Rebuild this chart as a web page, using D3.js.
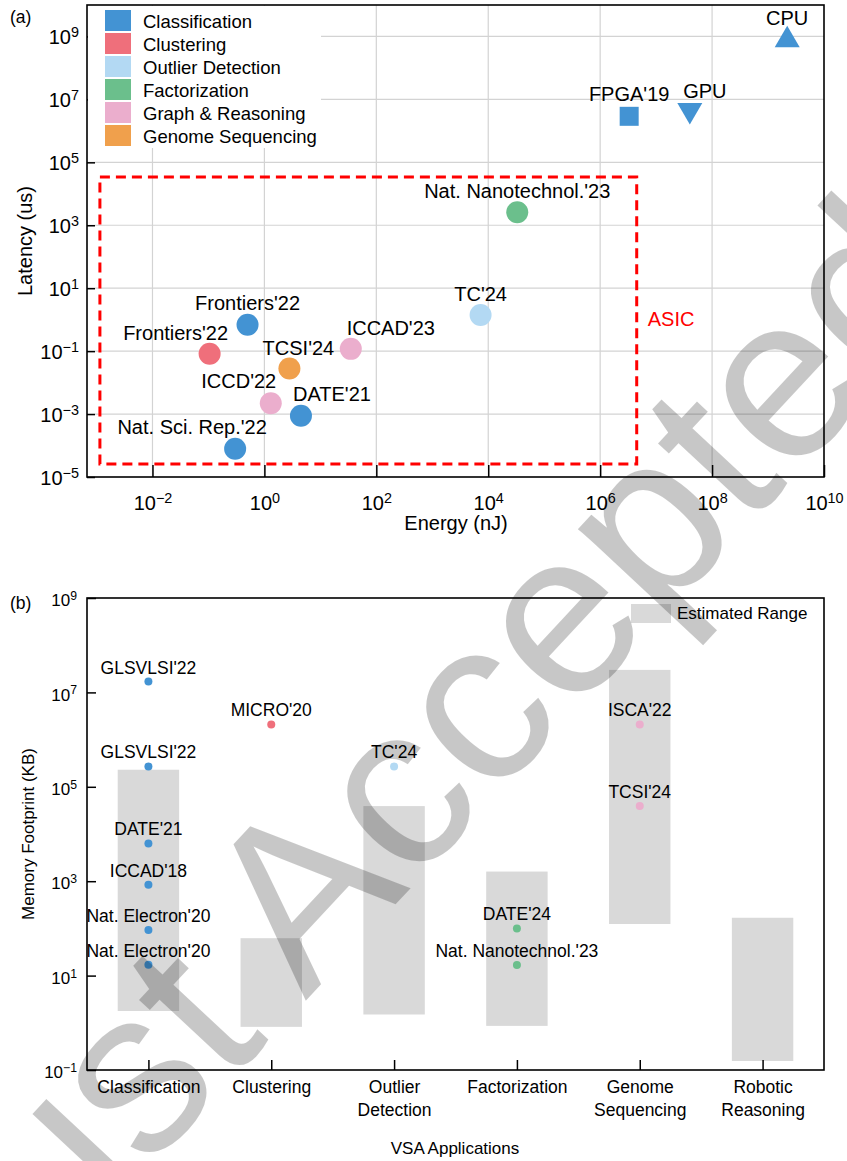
<!DOCTYPE html>
<html>
<head>
<meta charset="utf-8">
<script src="https://cdn.jsdelivr.net/npm/d3@7"></script>
<style>
  body { margin: 0; background: #fff; }
  text { font-family: "Liberation Sans", Arial, sans-serif; }
</style>
</head>
<body>
<script>
// ---- shared categories / colours
const categories = ["Classification", "Clustering", "Outlier Detection", "Factorization", "Graph & Reasoning", "Genome Sequencing"];
const catColors = ["#4393d3", "#ef6f7b", "#b3d9f3", "#6bbf8c", "#ebaecd", "#f0a04c"];

// ---- (a) energy vs latency
const aLabels   = ["CPU", "GPU", "FPGA'19", "Nat. Nanotechnol.'23", "TC'24", "Frontiers'22", "Frontiers'22", "ICCAD'23", "TCSI'24", "ICCD'22", "DATE'21", "Nat. Sci. Rep.'22"];
const aEnergy   = [2.2e9, 4e7, 3.3e6, 3.3e4, 7.3e3, 0.5, 0.105, 35, 2.8, 1.3, 4.5, 0.3];
const aLatency  = [1e9, 3.5e6, 2.9e6, 2.6e3, 1.4, 0.69, 0.082, 0.118, 0.028, 2.2e-3, 8.8e-4, 7.9e-5];
const aCategory = ["Classification", "Classification", "Classification", "Factorization", "Outlier Detection", "Classification", "Clustering", "Graph & Reasoning", "Genome Sequencing", "Graph & Reasoning", "Classification", "Classification"];
const aMarker   = ["triangle-up", "triangle-down", "square", "circle", "circle", "circle", "circle", "circle", "circle", "circle", "circle", "circle"];
const asicEnergy  = [1.15e-3, 4.5e6];
const asicLatency = [2.6e-5, 3.4e4];
const aXTicks = [1e-2, 1, 1e2, 1e4, 1e6, 1e8, 1e10];
const aYTicks = [1e-5, 1e-3, 1e-1, 1e1, 1e3, 1e5, 1e7, 1e9];

// ---- (b) memory footprint per application
const apps      = ["Classification", "Clustering", "Outlier Detection", "Factorization", "Genome Sequencing", "Robotic Reasoning"];
const rangeLow  = [1.78, 0.82, 1.5, 0.86, 124, 0.155];
const rangeHigh = [2.3e5, 62, 3.9e4, 1.6e3, 3e7, 168];
const bLabels   = ["GLSVLSI'22", "GLSVLSI'22", "DATE'21", "ICCAD'18", "Nat. Electron'20", "Nat. Electron'20", "MICRO'20", "TC'24", "DATE'24", "Nat. Nanotechnol.'23", "ISCA'22", "TCSI'24"];
const bApp      = ["Classification", "Classification", "Classification", "Classification", "Classification", "Classification", "Clustering", "Outlier Detection", "Factorization", "Factorization", "Genome Sequencing", "Genome Sequencing"];
const bMemory   = [1.7e7, 2.7e5, 6.3e3, 840, 92, 17, 2.1e6, 2.7e5, 100, 16.8, 2.1e6, 3.9e4];
const bCategory = ["Classification", "Classification", "Classification", "Classification", "Classification", "Classification", "Clustering", "Outlier Detection", "Factorization", "Factorization", "Graph & Reasoning", "Graph & Reasoning"];
const bYTicks = [1e-1, 1e1, 1e3, 1e5, 1e7, 1e9];

const color = d3.scaleOrdinal().domain(categories).range(catColors);

const W = 847, H = 1161;
const svg = d3.select("body").append("svg").attr("width", W).attr("height", H);

function expText(sel) {
  sel.each(function(d) {
    const t = d3.select(this).text(null);
    const e = Math.round(Math.log10(d));
    t.append("tspan").text("10");
    t.append("tspan").attr("dy", "-0.5em").attr("font-size", "72%").text(e < 0 ? "\u2212" + (-e) : e);
  });
}

// ================= (a) =================
const mA = {left: 87, top: 5}, wA = 737, hA = 472;
const gA = svg.append("g").attr("transform", `translate(${mA.left},${mA.top})`);
const xA = d3.scaleLog().domain([Math.pow(10, -3.17), 1e10]).range([0, wA]);
const yA = d3.scaleLog().domain([1e-5, 1e10]).range([hA, 0]);

// grid
gA.append("g").selectAll("line").data(aXTicks.slice(0, -1)).join("line")
  .attr("x1", d => xA(d)).attr("x2", d => xA(d)).attr("y1", 0).attr("y2", hA)
  .attr("stroke", "#d3d3d3").attr("stroke-width", 1.2);
gA.append("g").selectAll("line").data(aYTicks.slice(1)).join("line")
  .attr("y1", d => yA(d)).attr("y2", d => yA(d)).attr("x1", 0).attr("x2", wA)
  .attr("stroke", "#d3d3d3").attr("stroke-width", 1.2);

// axes
const axA_x = gA.append("g").attr("transform", `translate(0,${hA})`)
  .call(d3.axisBottom(xA).tickValues(aXTicks).tickSize(-12).tickSizeOuter(0).tickPadding(19))
  .attr("font-size", 20).attr("font-family", null);
axA_x.select(".domain").remove();
axA_x.selectAll(".tick line").attr("stroke-width", 1.5);
axA_x.selectAll(".tick text").call(expText);

const axA_y = gA.append("g")
  .call(d3.axisLeft(yA).tickValues(aYTicks).tickSize(-8).tickSizeOuter(0).tickPadding(8))
  .attr("font-size", 20).attr("font-family", null);
axA_y.select(".domain").remove();
axA_y.selectAll(".tick line").attr("stroke-width", 1.5);
axA_y.selectAll(".tick text").call(expText).attr("dy", "0.36em");

// ASIC box
gA.append("rect")
  .attr("x", xA(asicEnergy[0])).attr("y", yA(asicLatency[1]))
  .attr("width", xA(asicEnergy[1]) - xA(asicEnergy[0]))
  .attr("height", yA(asicLatency[0]) - yA(asicLatency[1]))
  .attr("fill", "none").attr("stroke", "#ff0000").attr("stroke-width", 3)
  .attr("stroke-dasharray", "10,6");
gA.append("text").attr("x", xA(asicEnergy[1]) + 11).attr("y", yA(1.5) + 12)
  .attr("fill", "#ff0000").attr("font-size", 20).text("ASIC");

// points
const aIdx = d3.range(aLabels.length);
const triUp = "M0,-10.8L12.5,10.8L-12.5,10.8Z";
const triDown = "M0,10.8L12.5,-10.8L-12.5,-10.8Z";
gA.append("g").selectAll("path").data(aIdx).join("path")
  .attr("transform", i => `translate(${xA(aEnergy[i])},${yA(aLatency[i])})`)
  .attr("d", i => aMarker[i] === "triangle-up" ? triUp
    : aMarker[i] === "triangle-down" ? triDown
    : aMarker[i] === "square" ? d3.symbol(d3.symbolSquare, 361)()
    : d3.symbol(d3.symbolCircle, Math.PI * 11 * 11)())
  .attr("fill", i => color(aCategory[i]));

// label offsets (px) relative to the marker
const aLabelDx = [0, 15, 0, 0, 0, 0, -34, 40, 9, -32, 31, -43];
const aLabelDy = [-11.5, -16, -15, -14, -14, -14.5, -14, -14, -14, -15, -15, -15];
gA.append("g").selectAll("text").data(aIdx).join("text")
  .attr("x", i => xA(aEnergy[i]) + aLabelDx[i])
  .attr("y", i => yA(aLatency[i]) + aLabelDy[i])
  .attr("text-anchor", "middle").attr("font-size", 20).text(i => aLabels[i]);

// legend
const legA = gA.append("g");
legA.append("rect").attr("x", 1).attr("y", 1).attr("width", 233).attr("height", 142).attr("fill", "#fff");
legA.selectAll("rect.p").data(categories).join("rect").attr("class", "p")
  .attr("x", 18).attr("y", (d, i) => 5 + i * 23).attr("width", 26).attr("height", 21)
  .attr("fill", d => color(d));
legA.selectAll("text").data(categories).join("text")
  .attr("x", 56).attr("y", (d, i) => 23 + i * 23).attr("font-size", 18.5).text(d => d);

// frame
gA.append("rect").attr("width", wA).attr("height", hA).attr("fill", "none")
  .attr("stroke", "#000").attr("stroke-width", 1.6);

svg.append("text").attr("x", 10).attr("y", 23).attr("font-size", 17.5).text("(a)");
svg.append("text").attr("x", mA.left + 369).attr("y", 530).attr("text-anchor", "middle")
  .attr("font-size", 20).text("Energy (nJ)");
svg.append("text").attr("transform", "translate(32,241) rotate(-90)").attr("text-anchor", "middle")
  .attr("font-size", 20).text("Latency (us)");

// ================= (b) =================
const mB = {left: 87, top: 598}, wB = 737, hB = 472;
const gB = svg.append("g").attr("transform", `translate(${mB.left},${mB.top})`);
const xB = d3.scalePoint().domain(apps).range([0, wB]).padding(0.5);
const yB = d3.scaleLog().domain([1e-1, 1e9]).range([hB, 0]);
const barW = xB.step() * 0.5;

gB.append("g").selectAll("rect").data(apps).join("rect")
  .attr("x", d => xB(d) - barW / 2).attr("width", barW)
  .attr("y", (d, i) => yB(rangeHigh[i]))
  .attr("height", (d, i) => yB(rangeLow[i]) - yB(rangeHigh[i]))
  .attr("fill", "#d9d9d9");

const axB_x = gB.append("g").attr("transform", `translate(0,${hB})`)
  .call(d3.axisBottom(xB).tickSize(-10).tickSizeOuter(0).tickPadding(10))
  .attr("font-size", 17.5).attr("font-family", null);
axB_x.select(".domain").remove();
axB_x.selectAll(".tick line").attr("stroke-width", 1.5);
axB_x.selectAll(".tick text").each(function(d) {
  const t = d3.select(this).text(null).attr("dy", null).attr("y", 23);
  d.split(" ").length > 1
    ? d.split(" ").forEach((w, k) => t.append("tspan").attr("x", 0).attr("dy", k ? 23 : 0).text(w))
    : t.text(d);
});

const axB_y = gB.append("g")
  .call(d3.axisLeft(yB).tickValues(bYTicks).tickSize(-9).tickSizeOuter(0).tickPadding(10))
  .attr("font-size", 17).attr("font-family", null);
axB_y.select(".domain").remove();
axB_y.selectAll(".tick line").attr("stroke-width", 1.5);
axB_y.selectAll(".tick text").call(expText).attr("dy", "0.45em");

const bIdx = d3.range(bLabels.length);
gB.append("g").selectAll("circle").data(bIdx).join("circle")
  .attr("cx", i => xB(bApp[i])).attr("cy", i => yB(bMemory[i])).attr("r", 4)
  .attr("fill", i => color(bCategory[i]));
gB.append("g").selectAll("text").data(bIdx).join("text")
  .attr("x", i => xB(bApp[i])).attr("y", i => yB(bMemory[i]) - 8)
  .attr("text-anchor", "middle").attr("font-size", 17.5).text(i => bLabels[i]);

// legend
gB.append("rect").attr("x", 544).attr("y", 6).attr("width", 40).attr("height", 19).attr("fill", "#d9d9d9");
gB.append("text").attr("x", 590).attr("y", 21).attr("font-size", 17).text("Estimated Range");

gB.append("rect").attr("width", wB).attr("height", hB).attr("fill", "none")
  .attr("stroke", "#000").attr("stroke-width", 1.6);

svg.append("text").attr("x", 10).attr("y", 609).attr("font-size", 17.5).text("(b)");
svg.append("text").attr("x", mB.left + 368).attr("y", 1154).attr("text-anchor", "middle")
  .attr("font-size", 17).text("VSA Applications");
svg.append("text").attr("transform", "translate(34,834) rotate(-90)").attr("text-anchor", "middle")
  .attr("font-size", 17).text("Memory Footprint (KB)");

// watermark
svg.append("text").attr("transform", "translate(-20,1350) rotate(-47)")
  .attr("font-size", 232).attr("fill", "#000").attr("fill-opacity", 0.22)
  .text("Just Accepted");
</script>
</body>
</html>
